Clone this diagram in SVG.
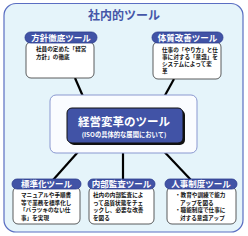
<svg xmlns="http://www.w3.org/2000/svg" width="248" height="236" viewBox="0 0 248 236">
<style>
text{font-family:"Noto Sans CJK JP","Noto Sans",sans-serif;font-weight:bold}
.pill{fill:#4153a6;stroke:#2c3c8e;stroke-width:0.8}
.pt{fill:#ffffff;font-size:8.5px;text-anchor:middle}
.body{fill:#ffffff;stroke:#333333;stroke-width:0.8}
.bt{fill:#111111;font-size:5.6px}
.con{stroke:#000000;stroke-width:2.2;fill:none}
</style>
<g id="panel">
<rect x="4" y="3.5" width="239" height="228.5" rx="12" fill="#e5f4fa" stroke="#5a6ec2" stroke-width="1.2"/>
<text x="124" y="20" fill="#4456a8" font-size="12" text-anchor="middle">社内的ツール</text>
</g>
<g id="connectors">
<line class="con" x1="75" y1="78" x2="88" y2="108"/>
<line class="con" x1="174" y1="79" x2="158" y2="108"/>
<line class="con" x1="86" y1="143" x2="53" y2="180"/>
<line class="con" x1="123" y1="143" x2="123" y2="180"/>
<line class="con" x1="156" y1="143" x2="191" y2="180"/>
</g>
<g id="center">
<rect x="50" y="95" width="147" height="58" rx="6" fill="#fafcff" stroke="#8a98d0" stroke-width="1"/>
<rect x="69" y="110" width="116" height="35" rx="5" fill="#111111"/>
<rect x="67" y="108" width="116" height="35" rx="5" fill="#4153a6" stroke="#111111" stroke-width="1"/>
<text x="124" y="126" fill="#ffffff" font-size="11.5" text-anchor="middle">経営変革のツール</text>
<text x="124" y="136.5" fill="#ffffff" font-size="6.3" text-anchor="middle">(ISOの具体的な展開において)</text>
</g>
<g id="tool-houshin">
<rect class="body" x="26" y="42" width="68" height="36" rx="5"/>
<rect class="pill" x="25" y="32" width="72" height="11" rx="5.5"/>
<text class="pt" x="61" y="40.8">方針徹底ツール</text>
<text class="bt" x="36" y="51">社員の定めた「経営</text>
<text class="bt" x="36" y="59">方針」の徹底</text>
</g>
<g id="tool-taishitsu">
<rect class="body" x="153" y="42" width="68" height="37" rx="5"/>
<rect class="pill" x="152" y="32" width="71" height="11" rx="5.5"/>
<text class="pt" x="187.5" y="40.8">体質改善ツール</text>
<text class="bt" x="162" y="52">仕事の「やり方」と仕</text>
<text class="bt" x="162" y="59">事に対する「意識」を</text>
<text class="bt" x="162" y="66">システムによって変</text>
<text class="bt" x="162" y="73">革</text>
</g>
<g id="tool-hyoujunka">
<rect class="body" x="13" y="187" width="67" height="37" rx="5"/>
<rect class="pill" x="12" y="179" width="69" height="10" rx="5"/>
<text class="pt" x="46.5" y="187">標準化ツール</text>
<text class="bt" x="21" y="197">マニュアルや手順書</text>
<text class="bt" x="21" y="204.5">等で業務を標準化し</text>
<text class="bt" x="20" y="212">「バラツキのない仕</text>
<text class="bt" x="21" y="219.5">事」を実現</text>
</g>
<g id="tool-naibu">
<rect class="body" x="89" y="187" width="65" height="37" rx="5"/>
<rect class="pill" x="88" y="179" width="67" height="10" rx="5"/>
<text class="pt" x="121.5" y="187">内部監査ツール</text>
<text class="bt" x="93" y="197">社内の内部監査によ</text>
<text class="bt" x="93" y="204.5">って品質状態をチェ</text>
<text class="bt" x="93" y="212">ックし、必要な改善</text>
<text class="bt" x="93" y="219.5">を図る</text>
</g>
<g id="tool-jinji">
<rect class="body" x="167" y="187" width="69" height="37" rx="5"/>
<rect class="pill" x="165" y="179" width="72" height="10" rx="5"/>
<text class="pt" x="201" y="187">人事制度ツール</text>
<text class="bt" x="175" y="197">・教育や訓練で能力</text>
<text class="bt" x="180" y="204.5">アップを図る</text>
<text class="bt" x="175" y="212">・職能制度で仕事に</text>
<text class="bt" x="180" y="219.5">対する意識アップ</text>
</g>
</svg>
